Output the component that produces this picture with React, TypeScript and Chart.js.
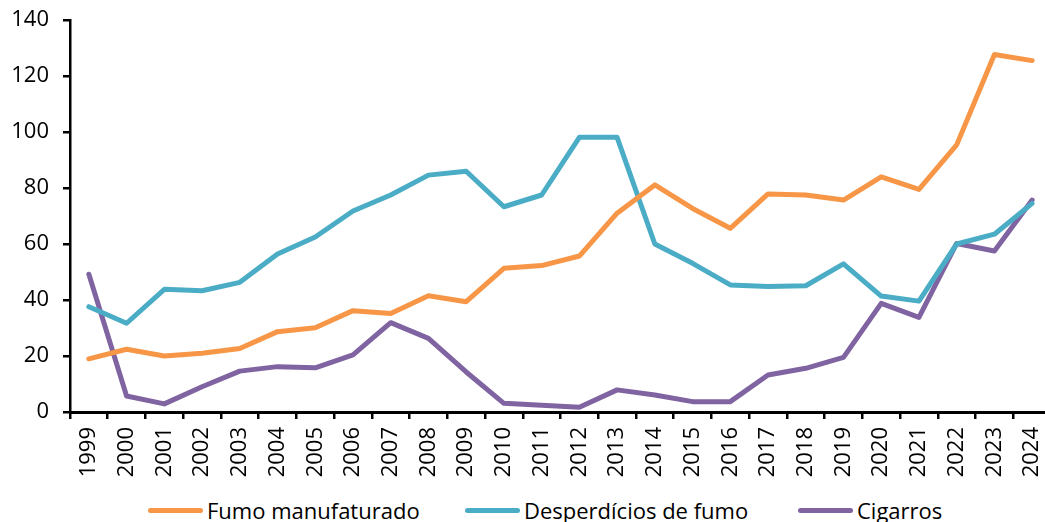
import React, { useEffect, useRef } from "react";
import { Chart, registerables } from "chart.js";

Chart.register(...registerables);

const years = ["1999","2000","2001","2002","2003","2004","2005","2006","2007","2008","2009","2010","2011","2012","2013","2014","2015","2016","2017","2018","2019","2020","2021","2022","2023","2024"];
const fumoManufaturado = [19, 22.4, 20, 21, 22.7, 28.7, 30.1, 36.2, 35.2, 41.5, 39.4, 51.3, 52.3, 55.7, 71, 81.1, 72.7, 65.6, 77.9, 77.5, 75.7, 84, 79.5, 95.4, 127.7, 125.5];
const desperdicios = [37.6, 31.7, 43.8, 43.3, 46.3, 56.4, 62.5, 71.8, 77.5, 84.6, 86, 73.3, 77.5, 98.1, 98.1, 60, 53.1, 45.4, 44.8, 45.1, 52.9, 41.4, 39.6, 60, 63.5, 74.5];
const cigarros = [49.2, 5.7, 2.9, 9, 14.6, 16.2, 15.8, 20.4, 31.9, 26.3, 14.3, 3.1, 2.4, 1.7, 7.9, 6.1, 3.7, 3.7, 13.2, 15.6, 19.5, 38.8, 33.8, 60.2, 57.5, 75.7];
const seriesNames = ["Fumo manufaturado", "Desperdícios de fumo", "Cigarros"];
const seriesColors = ["#F79646", "#4BACC6", "#8064A2"];
const yMin = 0;
const yMax = 140;
const yStep = 20;

const FONT = "'Open Sans', 'Noto Sans', sans-serif";

export default function App() {
  const ref = useRef<HTMLCanvasElement | null>(null);

  useEffect(() => {
    if (!ref.current) return;
    const data = [fumoManufaturado, desperdicios, cigarros];
    const chart = new Chart(ref.current, {
      type: "line",
      data: {
        labels: years,
        datasets: data.map((d, i) => ({
          label: seriesNames[i],
          data: d,
          borderColor: seriesColors[i],
          backgroundColor: seriesColors[i],
          borderWidth: 5,
          pointRadius: 0,
          tension: 0,
          borderCapStyle: "round" as const,
          borderJoinStyle: "round" as const,
        })),
      },
      options: {
        animation: false,
        responsive: false,
        maintainAspectRatio: false,
        layout: { padding: { top: 20, left: 0, right: 0, bottom: 0 } },
        plugins: {
          legend: { display: false },
          tooltip: { enabled: false },
        },
        scales: {
          x: {
            offset: true,
            grid: {
              offset: true,
              display: true,
              drawOnChartArea: false,
              drawTicks: true,
              tickLength: 7,
              color: "#000",
              lineWidth: 2.5,
            },
            border: { display: true, color: "#000", width: 3 },
            ticks: {
              color: "#000",
              font: { family: FONT, size: 22 },
              maxRotation: 90,
              minRotation: 90,
              padding: 8,
              autoSkip: false,
            },
            afterFit: (scale: any) => {
              scale.height = 68;
              scale.paddingLeft = 0;
              scale.paddingRight = 0;
            },
          },
          y: {
            min: yMin,
            max: yMax,
            grid: {
              display: true,
              drawOnChartArea: false,
              drawTicks: true,
              tickLength: 7,
              color: "#000",
              lineWidth: 2.5,
            },
            border: { display: true, color: "#000", width: 2.5 },
            ticks: {
              stepSize: yStep,
              color: "#000",
              font: { family: FONT, size: 22 },
              padding: 14,
            },
            afterFit: (scale: any) => {
              scale.width = 70;
              scale.paddingTop = 0;
              scale.paddingBottom = 0;
            },
          },
        },
      },
    });
    return () => chart.destroy();
  }, []);

  const legendPos = [148, 465, 798];

  return (
    <div
      style={{
        position: "fixed",
        left: 0,
        top: 0,
        width: 1045,
        height: 522,
        overflow: "hidden",
        background: "#fff",
      }}
    >
      <canvas
        ref={ref}
        width={1051}
        height={480}
        style={{ position: "absolute", left: 0, top: 0, width: 1051, height: 480 }}
      />
      {seriesNames.map((name, i) => (
        <div
          key={name}
          style={{
            position: "absolute",
            left: legendPos[i],
            top: 495,
            height: 30,
            display: "flex",
            alignItems: "center",
            whiteSpace: "nowrap",
            fontFamily: FONT,
            fontSize: 22,
            color: "#000",
          }}
        >
          <span
            style={{
              display: "inline-block",
              width: 55,
              height: 5,
              borderRadius: 3,
              background: seriesColors[i],
              marginRight: 4,
            }}
          />
          <span>{name}</span>
        </div>
      ))}
    </div>
  );
}
